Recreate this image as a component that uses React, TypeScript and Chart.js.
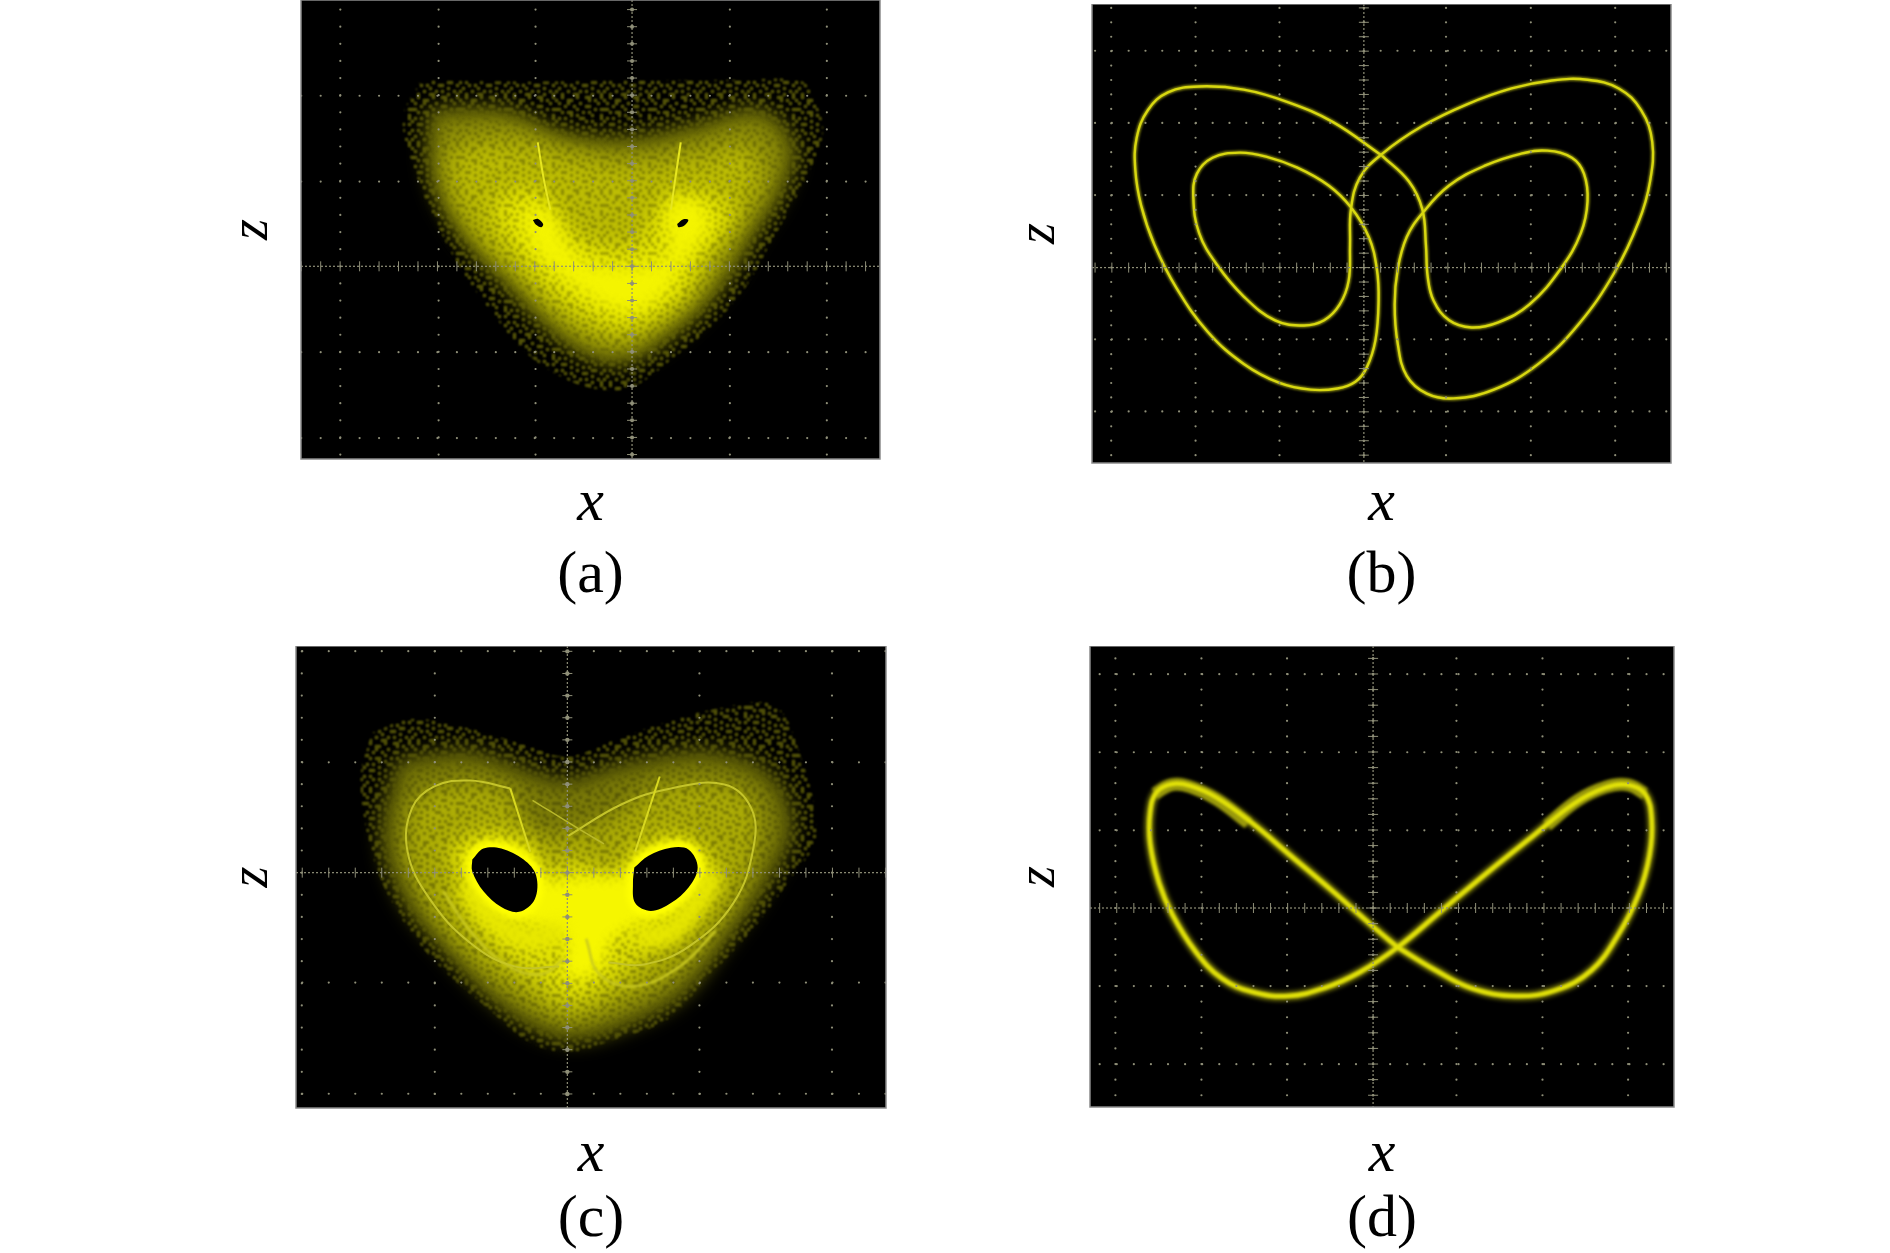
import React, { useEffect, useRef } from "react";
import { Chart, registerables } from "chart.js";

// ---- values, in zoom-reading units (converted against each panel's centre) ----
const aOuterX = [450, 700, 923, 1150, 1300, 1330, 1350, 1325, 1280, 1230, 1180, 1105, 1020, 930, 860, 770, 680, 610, 540, 480, 440, 410, 450];
const aOuterZ = [205, 207, 205, 203, 205, 250, 330, 420, 520, 620, 720, 820, 900, 975, 985, 955, 885, 790, 680, 550, 440, 300, 205];
const aMidX = [470, 640, 780, 923, 1060, 1210, 1285, 1260, 1200, 1140, 1065, 985, 923, 860, 780, 700, 620, 540, 475, 470];
const aMidZ = [280, 280, 340, 350, 320, 280, 370, 480, 590, 700, 800, 870, 910, 915, 870, 790, 690, 590, 450, 280];
const aInnerX = [510, 650, 790, 923, 1060, 1195, 1210, 1135, 1070, 990, 923, 850, 770, 680, 595, 520, 510];
const aInnerZ = [370, 350, 390, 410, 390, 370, 470, 610, 730, 810, 860, 860, 810, 710, 630, 500, 370];
const aBrightX = [620, 720, 790, 923, 1000, 1100, 1150, 1085, 1045, 965, 900, 820, 720, 665, 620, 620];
const aBrightZ = [490, 480, 590, 620, 500, 490, 540, 650, 740, 810, 830, 800, 720, 640, 570, 490];
const aCoreX = [680, 745, 780, 840, 1000, 1000, 1075, 1095, 1040, 995, 920, 840, 745, 690, 680];
const aCoreZ = [520, 540, 620, 670, 650, 520, 510, 580, 660, 745, 790, 760, 680, 610, 520];
const aEyeLeftX = [701, 712, 724, 720, 708, 701];
const aEyeLeftZ = [556, 553, 566, 574, 568, 556];
const aEyeRightX = [1024, 1038, 1049, 1040, 1027, 1024];
const aEyeRightZ = [566, 554, 556, 570, 574, 566];
const aSpikeLeftX = [712, 725, 740];
const aSpikeLeftZ = [360, 450, 530];
const aSpikeRightX = [1032, 1020, 1010];
const aSpikeRightZ = [360, 450, 530];

const bCurveX = [810, 700, 600, 500, 400, 330, 285, 260, 257, 270, 300, 350, 420, 500, 580, 650, 710, 750, 775, 795, 802, 798, 780, 740, 690, 620, 550, 490, 430, 395, 387, 400, 440, 500, 570, 635, 680, 715, 735, 738, 740, 760, 810, 900, 1000, 1100, 1190, 1270, 1340, 1390, 1415, 1410, 1385, 1330, 1250, 1160, 1060, 970, 910, 865, 845, 838, 845, 865, 900, 960, 1040, 1120, 1180, 1235, 1262, 1270, 1255, 1210, 1140, 1070, 1010, 960, 925, 912, 908, 900, 870, 810];
const bCurveZ = [395, 310, 260, 228, 220, 235, 280, 350, 430, 520, 620, 730, 840, 920, 968, 985, 982, 965, 930, 860, 760, 680, 600, 525, 470, 425, 397, 387, 400, 440, 500, 590, 670, 750, 810, 823, 810, 770, 710, 620, 530, 450, 390, 320, 265, 225, 205, 203, 225, 280, 360, 460, 560, 690, 820, 920, 985, 1007, 995, 950, 870, 770, 680, 600, 540, 470, 420, 390, 382, 400, 440, 510, 590, 680, 770, 815, 828, 810, 760, 700, 620, 530, 460, 395];

const cOuterX = [340, 430, 560, 680, 778, 880, 980, 1110, 1240, 1295, 1335, 1270, 1190, 1090, 1000, 880, 790, 700, 600, 480, 400, 345, 315, 340];
const cOuterZ = [260, 225, 250, 290, 320, 280, 240, 200, 190, 300, 520, 640, 760, 880, 985, 1035, 1065, 1045, 955, 835, 715, 580, 380, 260];
const cMidX = [400, 560, 700, 778, 900, 1100, 1235, 1280, 1225, 1135, 1035, 900, 790, 700, 600, 495, 410, 365, 400];
const cMidZ = [330, 310, 360, 380, 340, 310, 370, 500, 640, 785, 925, 1005, 1035, 1005, 925, 800, 680, 520, 330];
const cInnerX = [430, 520, 650, 700, 850, 980, 1120, 1200, 1190, 1105, 995, 880, 780, 680, 575, 480, 420, 430];
const cInnerZ = [430, 390, 410, 510, 490, 400, 390, 440, 600, 765, 885, 955, 985, 935, 845, 725, 570, 430];
const cBrightX = [510, 615, 700, 720, 780, 880, 930, 1030, 1110, 1075, 990, 905, 850, 780, 715, 620, 545, 510];
const cBrightZ = [540, 505, 540, 610, 580, 610, 550, 515, 590, 690, 790, 870, 915, 945, 895, 810, 700, 540];
const cCoreX = [540, 610, 700, 730, 820, 900, 940, 1030, 1085, 1040, 970, 880, 860, 820, 770, 770, 680, 590, 540];
const cCoreZ = [570, 535, 570, 630, 620, 620, 570, 540, 590, 690, 730, 780, 840, 880, 870, 780, 740, 690, 570];
const cEyeLeftX = [565, 590, 630, 680, 708, 705, 670, 630, 590, 565, 565];
const cEyeLeftZ = [580, 552, 552, 580, 620, 680, 712, 700, 660, 610, 580];
const cEyeRightX = [928, 960, 1010, 1050, 1070, 1050, 1010, 965, 930, 925, 928];
const cEyeRightZ = [600, 570, 550, 555, 600, 650, 690, 710, 690, 640, 600];
const cLoopLeftX = [650, 560, 480, 430, 420, 470, 560, 660, 760];
const cLoopLeftZ = [400, 380, 395, 450, 560, 680, 790, 850, 850];
const cLoopRightX = [780, 900, 1010, 1130, 1190, 1195, 1150, 1050, 950, 870];
const cLoopRightZ = [520, 440, 400, 390, 450, 550, 690, 800, 845, 840];
const cArcLeftX = [500, 560, 640, 720, 770];
const cArcLeftZ = [660, 760, 845, 870, 830];
const cArcRightX = [1110, 1030, 930, 850, 820];
const cArcRightZ = [760, 850, 900, 870, 780];
const cGlowLeftX = [550, 610, 690, 770];
const cGlowLeftZ = [640, 730, 780, 760];
const cGlowRightX = [930, 1000, 1070, 1110];
const cGlowRightZ = [770, 770, 690, 610];
const cSpikeLeftX = [650, 695];
const cSpikeLeftZ = [400, 560];
const cSpikeRightX = [985, 930];
const cSpikeRightZ = [370, 560];
const cCrossX = [700, 800, 860];
const cCrossZ = [430, 500, 540];

const dCurveX = [845, 790, 700, 600, 520, 440, 380, 340, 305, 290, 290, 310, 340, 390, 450, 520, 600, 680, 760, 845, 940, 1050, 1150, 1240, 1310, 1360, 1400, 1415, 1410, 1385, 1340, 1280, 1200, 1110, 1010, 930, 845];
const dCurveZ = [802, 750, 661, 566, 490, 425, 395, 390, 410, 460, 540, 640, 720, 810, 880, 915, 925, 905, 865, 802, 713, 610, 520, 440, 400, 392, 415, 480, 570, 670, 770, 860, 910, 925, 905, 860, 802];
const dCornerLeftX = [300, 340, 380, 440, 510];
const dCornerLeftZ = [415, 392, 398, 430, 490];
const dCornerRightX = [1180, 1250, 1310, 1360, 1400];
const dCornerRightZ = [495, 430, 398, 392, 415];

const aXMajors = [270, 490, 707, 923, 1142, 1359];
const aZMajors = [242, 459, 673, 890, 1107];
const bXMajors = [203, 392, 580, 769, 953, 1143, 1332];
const bZMajors = [130, 312, 494, 677, 858, 1040];
const cXMajors = [183, 481, 778, 1074, 1371];
const cZMajors = [53, 334, 613, 891, 1172];
const dXMajors = [212, 405, 597, 790, 977, 1170, 1362];
const dZMajors = [113, 310, 507, 703, 900, 1097];

const axisLabelX = "x";
const axisLabelZ = "z";
const captions = ["(a)", "(b)", "(c)", "(d)"];

// ---- style ----
const speckle = [
  "..#....#..##...#",
  "#...##.....#.#..",
  ".#..#...#.....#.",
  "...#..#...##....",
  "##.....#.....#.#",
  "..#.##...#.#....",
  ".....#.#....#..#",
  ".#.#....##.....#",
  "#....#....#.#...",
  "..##...#.....#.#",
  ".....#...#.#....",
  "#.#....#....##..",
  "...#.#...##....#",
  ".#....#.....#...",
  "#...#...#.#...#.",
  "..#...##....#..#",
];
const SERIF = "'Liberation Serif', 'Times New Roman', serif";
const GRID = "#8f8f78";

function speckleFill(base: string, dot: string, cell: number) {
  const c = document.createElement("canvas");
  c.width = c.height = speckle.length * cell;
  const g = c.getContext("2d")!;
  if (base) { g.fillStyle = base; g.fillRect(0, 0, c.width, c.height); }
  g.fillStyle = dot;
  speckle.forEach((row, r) => [...row].forEach((ch, k) => {
    if (ch === "#") g.fillRect(k * cell, r * cell, cell, cell);
  }));
  return g.createPattern(c, "repeat")!;
}

const blurPlugin = {
  id: "softEdge",
  beforeDatasetDraw(chart: any, args: any) {
    const b = chart.data.datasets[args.index].softEdge;
    if (b) chart.ctx.filter = `blur(${b}px)`;
  },
  afterDatasetDraw(chart: any, args: any) {
    if (chart.data.datasets[args.index].softEdge) chart.ctx.filter = "none";
  },
};
Chart.register(blurPlugin, ...registerables);

const screenPlugin = {
  id: "screen",
  beforeDatasetsDraw(chart: any) {
    const { ctx, chartArea: a } = chart;
    ctx.save();
    ctx.fillStyle = "#000";
    ctx.fillRect(a.left, a.top, a.width, a.height);
    ctx.restore();
  },
  afterDatasetsDraw(chart: any) {
    const { ctx, chartArea: a } = chart;
    ctx.save();
    ctx.strokeStyle = "#8a8a8a";
    ctx.lineWidth = 1.5;
    ctx.strokeRect(a.left, a.top, a.width, a.height);
    ctx.restore();
  },
};

type Panel = {
  caption: string;
  left: number; top: number; w: number; h: number;
  x0: number; x1: number; y0: number; y1: number; cx: number; cy: number;
  xMajors: number[]; zMajors: number[];
  zGap: number; xGap: number; capY: number; blob: number;
  layers: () => any[];
};

const pts = (p: { cx: number; cy: number }, xs: number[], zs: number[]) =>
  xs.map((x, i) => ({ x: x - p.cx, y: p.cy - zs[i] }));

function area(p: any, xs: number[], zs: number[], color: any, softEdge = 0, extra: any = {}) {
  return { type: "scatter", showLine: true, data: pts(p, xs, zs), fill: "shape", backgroundColor: color,
    borderColor: "transparent", borderWidth: 0, pointRadius: 0, tension: 0.35, softEdge, ...extra };
}
function curve(p: any, xs: number[], zs: number[], color: string, width: number, softEdge = 0, tension = 0.4) {
  return { type: "scatter", showLine: true, data: pts(p, xs, zs), fill: false, borderColor: color, borderWidth: width,
    pointRadius: 0, tension, softEdge, backgroundColor: "transparent" };
}

function graticule(p: Panel) {
  const stepX = (p.xMajors[p.xMajors.length - 1] - p.xMajors[0]) / (p.xMajors.length - 1) / 5;
  const stepZ = (p.zMajors[p.zMajors.length - 1] - p.zMajors[0]) / (p.zMajors.length - 1) / 5;
  const subX: number[] = [], subZ: number[] = [];
  for (let v = p.cx; v < p.x1; v += stepX) subX.push(v);
  for (let v = p.cx - stepX; v > p.x0; v -= stepX) subX.push(v);
  for (let v = p.cy; v < p.y1; v += stepZ) subZ.push(v);
  for (let v = p.cy - stepZ; v > p.y0; v -= stepZ) subZ.push(v);
  const dots: any[] = [];
  p.zMajors.filter((z) => z !== p.cy).forEach((z) => subX.forEach((x) => dots.push({ x: x - p.cx, y: p.cy - z })));
  p.xMajors.filter((x) => x !== p.cx).forEach((x) => subZ.forEach((z) => dots.push({ x: x - p.cx, y: p.cy - z })));
  const base = { type: "scatter", showLine: false, borderWidth: 1, borderColor: GRID, backgroundColor: GRID };
  return [
    { ...base, data: dots, pointRadius: 1.1, borderWidth: 0, pointStyle: "circle" },
    { ...base, data: subX.map((x) => ({ x: x - p.cx, y: 0 })), pointStyle: "line", pointRotation: 90, pointRadius: 5 },
    { ...base, data: subZ.map((z) => ({ x: 0, y: p.cy - z })), pointStyle: "line", pointRotation: 0, pointRadius: 5 },
    { ...base, data: subZ.map((z) => ({ x: 0, y: p.cy - z })), pointStyle: "circle", pointRadius: p.blob, borderWidth: 0 },
    { type: "scatter", showLine: true, pointRadius: 0, borderColor: GRID, borderWidth: 1.2, borderDash: [2, 2], fill: false,
      data: [{ x: p.x0 - p.cx, y: 0 }, { x: p.x1 - p.cx, y: 0 }] },
    { type: "scatter", showLine: true, pointRadius: 0, borderColor: GRID, borderWidth: 1.2, borderDash: [2, 2], fill: false,
      data: [{ x: 0, y: p.cy - p.y0 }, { x: 0, y: p.cy - p.y1 }] },
  ];
}

const panelA: Panel = {
  caption: captions[0], left: 301, top: 0, w: 579, h: 459,
  x0: 182, x1: 1478, y0: 0, y1: 1160, cx: 923, cy: 673,
  xMajors: aXMajors, zMajors: aZMajors, zGap: 48, xGap: 45, capY: 576, blob: 2,
  layers() {
    const p = this;
    return [
      area(p, aOuterX, aOuterZ, speckleFill("", "#72720c", 3), 1),
      area(p, aMidX, aMidZ, "#868608", 10),
      area(p, aInnerX, aInnerZ, "#bcbc04", 12),
      area(p, aBrightX, aBrightZ, "#e4e402", 10),
      area(p, aOuterX, aOuterZ, speckleFill("", "rgba(20,20,0,0.30)", 3), 1),
      area(p, aCoreX, aCoreZ, "#f4f400", 8),
      curve(p, aSpikeLeftX, aSpikeLeftZ, "#e6e620", 2, 0.6),
      curve(p, aSpikeRightX, aSpikeRightZ, "#e6e620", 2, 0.6),
      area(p, aEyeLeftX, aEyeLeftZ, "#000"),
      area(p, aEyeRightX, aEyeRightZ, "#000"),
    ];
  },
};
const panelB: Panel = {
  caption: captions[1], left: 1092, top: 4, w: 579, h: 459,
  x0: 160, x1: 1457, y0: 12, y1: 1170, cx: 769, cy: 677,
  xMajors: bXMajors, zMajors: bZMajors, zGap: 52, xGap: 41, capY: 576, blob: 1.2,
  layers() {
    return [curve(this, bCurveX, bCurveZ, "#85850e", 4.5, 1), curve(this, bCurveX, bCurveZ, "#d8d810", 2.4, 0.3)];
  },
};
const panelC: Panel = {
  caption: captions[2], left: 296, top: 646, w: 590, h: 462,
  x0: 170, x1: 1492, y0: 40, y1: 1208, cx: 778, cy: 613,
  xMajors: cXMajors, zMajors: cZMajors, zGap: 43, xGap: 47, capY: 1220, blob: 2.2,
  layers() {
    const p = this;
    return [
      area(p, cOuterX, cOuterZ, speckleFill("", "#72720c", 3), 1),
      area(p, cMidX, cMidZ, "#7a7a08", 10),
      area(p, cInnerX, cInnerZ, "#acac06", 10),
      area(p, cBrightX, cBrightZ, "#e0e004", 10),
      area(p, cOuterX, cOuterZ, speckleFill("", "rgba(20,20,0,0.34)", 3), 1),
      area(p, cCoreX, cCoreZ, "#f6f600", 7),
      curve(p, cGlowLeftX, cGlowLeftZ, "#e8e800", 22, 7),
      curve(p, cGlowRightX, cGlowRightZ, "#e8e800", 22, 7),
      curve(p, cLoopLeftX, cLoopLeftZ, "#c4c42a", 2, 0.6),
      curve(p, cLoopRightX, cLoopRightZ, "#c4c42a", 2, 0.6),
      curve(p, cArcLeftX, cArcLeftZ, "#c8c820", 2.5, 0.8),
      curve(p, cArcRightX, cArcRightZ, "#c8c820", 2.5, 0.8),
      curve(p, cSpikeLeftX, cSpikeLeftZ, "#d8d820", 2, 0.5),
      curve(p, cSpikeRightX, cSpikeRightZ, "#d8d820", 2, 0.5),
      curve(p, cCrossX, cCrossZ, "#b8b82a", 1.5, 0.5),
      curve(p, cEyeLeftX, cEyeLeftZ, "#ffff00", 12, 3),
      curve(p, cEyeRightX, cEyeRightZ, "#ffff00", 12, 3),
      area(p, cEyeLeftX, cEyeLeftZ, "#000"),
      area(p, cEyeRightX, cEyeRightZ, "#000"),
    ];
  },
};
const panelD: Panel = {
  caption: captions[3], left: 1090, top: 646, w: 584, h: 461,
  x0: 155, x1: 1465, y0: 42, y1: 1205, cx: 790, cy: 703,
  xMajors: dXMajors, zMajors: dZMajors, zGap: 50, xGap: 48, capY: 1220, blob: 1.3,
  layers() {
    return [
      curve(this, dCurveX, dCurveZ, "#7a7a0a", 9, 2),
      curve(this, dCornerLeftX, dCornerLeftZ, "#9a9a0c", 12, 1.5),
      curve(this, dCornerRightX, dCornerRightZ, "#9a9a0c", 12, 1.5),
      curve(this, dCurveX, dCurveZ, "#e0e008", 4.5, 1),
    ];
  },
};
const panels = [panelA, panelB, panelC, panelD];

const Z_FONT = 54, CAP_FONT = 60, LH = 1.2;

function PanelChart({ p }: { p: Panel }) {
  const ref = useRef<HTMLCanvasElement>(null);
  const zBox = Z_FONT * LH, xBox = CAP_FONT * LH, capBox = CAP_FONT * LH;
  const canvasLeft = Math.round(p.left - p.zGap - zBox / 2 - 2);
  const leftSpace = p.left - canvasLeft;
  const xPadTop = p.xGap - xBox / 2;
  const capPadTop = p.capY - (p.top + p.h + p.xGap + xBox / 2) - capBox / 2;
  const height = p.h + xPadTop + xBox + capPadTop + capBox + 4;
  const width = leftSpace + p.w + 3;
  useEffect(() => {
    const layers = p.layers().concat(graticule(p));
    const datasets = layers.map((d: any, i: number) => ({ ...d, order: layers.length - i }));
    const chart = new Chart(ref.current!, {
      type: "scatter",
      data: { datasets },
      options: {
        responsive: false,
        animation: false,
        events: [],
        layout: { padding: { left: 0, top: 0, right: 3, bottom: 0 }, autoPadding: false },
        scales: {
          x: {
            type: "linear", min: p.x0 - p.cx, max: p.x1 - p.cx,
            grid: { display: false, drawTicks: false }, border: { display: false }, ticks: { display: false },
            title: { display: true, text: axisLabelX, color: "#000",
              font: { family: SERIF, size: CAP_FONT, style: "italic", lineHeight: LH },
              padding: { top: xPadTop, bottom: 0 } },
          },
          y: {
            type: "linear", min: p.cy - p.y1, max: p.cy - p.y0,
            grid: { display: false, drawTicks: false }, border: { display: false }, ticks: { display: false },
            title: { display: true, text: axisLabelZ, color: "#000",
              font: { family: SERIF, size: Z_FONT, style: "italic", lineHeight: LH },
              padding: { top: leftSpace - zBox - (p.zGap - zBox / 2), bottom: p.zGap - zBox / 2 } },
          },
        },
        plugins: {
          legend: { display: false },
          tooltip: { enabled: false },
          title: { display: true, position: "bottom", fullSize: false, text: p.caption, color: "#000",
            font: { family: SERIF, size: CAP_FONT, weight: "normal", lineHeight: LH },
            padding: { top: capPadTop, bottom: 4 } },
        },
      },
      plugins: [screenPlugin],
    } as any);
    return () => chart.destroy();
  }, []);
  return (
    <canvas ref={ref} width={Math.round(width)} height={Math.round(height)}
      style={{ position: "absolute", left: canvasLeft, top: p.top, display: "block" }} />
  );
}

export default function App() {
  return (
    <div style={{ position: "absolute", left: 0, top: 0, width: 1890, height: 1253, background: "#fff", overflow: "hidden" }}>
      {panels.map((p) => <PanelChart key={p.caption} p={p} />)}
    </div>
  );
}
